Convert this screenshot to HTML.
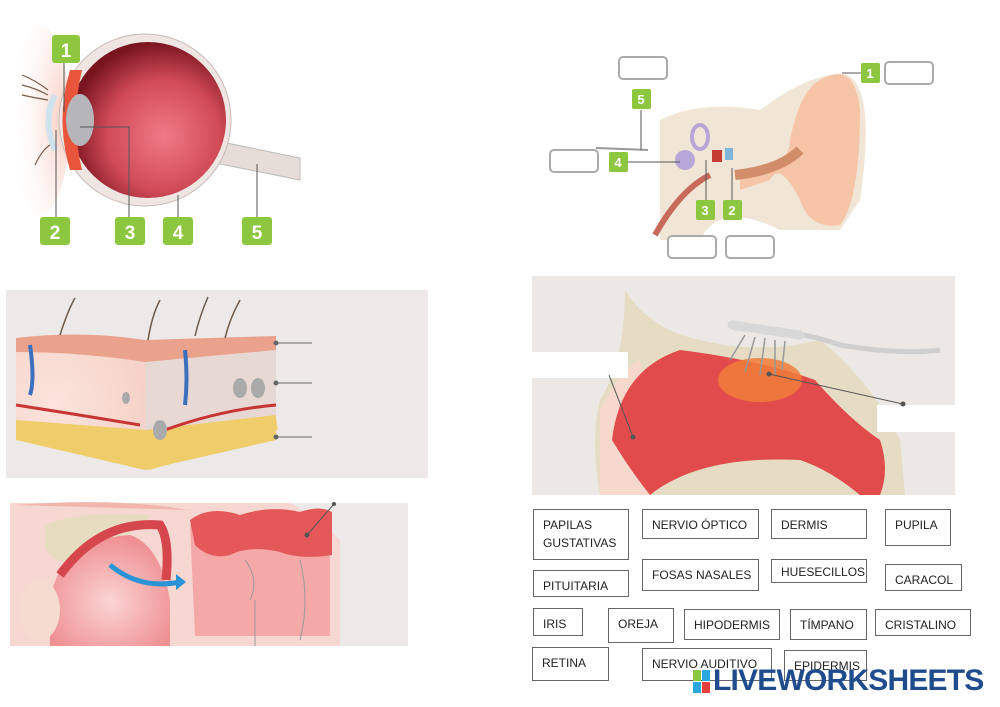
<!DOCTYPE html>
<html><head><meta charset="utf-8"><style>
body{margin:0;background:#fff;width:1000px;height:707px;position:relative;overflow:hidden;font-family:"Liberation Sans",sans-serif}
.b{position:absolute;border:1px solid #666;background:#fff;font-size:12px;color:#222;padding:6px 0 0 9px;box-sizing:border-box;line-height:18px}
svg{position:absolute;left:0;top:0}
.lw{position:absolute;font-weight:bold;font-size:30px;color:#1f4c8c;letter-spacing:-0.8px;font-family:"Liberation Sans",sans-serif}
</style></head><body>
<svg width="1000" height="707" viewBox="0 0 1000 707">
<defs>
<radialGradient id="eg" cx="0.6" cy="0.6" r="0.6"><stop offset="0" stop-color="#f07a86"/><stop offset="0.6" stop-color="#d14a58"/><stop offset="1" stop-color="#7a1520"/></radialGradient>
<radialGradient id="sk" cx="0.3" cy="0.5" r="0.8"><stop offset="0" stop-color="#fbe4dc"/><stop offset="1" stop-color="#f5d0c6"/></radialGradient>
<radialGradient id="mo" cx="0.5" cy="0.6" r="0.6"><stop offset="0" stop-color="#fbd4d4"/><stop offset="1" stop-color="#ef8f92"/></radialGradient>
<radialGradient id="lid" cx="0.9" cy="0.5" r="0.9"><stop offset="0" stop-color="#f9cbbf"/><stop offset="1" stop-color="#fff" stop-opacity="0"/></radialGradient>
</defs>
<!-- EYE -->
<ellipse cx="40" cy="120" rx="30" ry="95" fill="url(#lid)"/>
<path d="M212 140 L300 158 L300 180 L210 162 Z" fill="#e6dcd8" stroke="#bbb"/>
<circle cx="145" cy="120" r="86" fill="#efe6e3" stroke="#c9b9b5"/>
<circle cx="148" cy="120" r="78" fill="url(#eg)"/>
<path d="M70 70 Q55 120 70 170 L82 170 Q70 120 82 70Z" fill="#e8553a"/>
<ellipse cx="80" cy="120" rx="14" ry="26" fill="#b5b5ba"/>
<path d="M55 95 Q42 120 55 150" stroke="#cfe3ee" stroke-width="6" fill="none"/>
<g stroke="#7a5a4a" stroke-width="1.2" fill="none"><path d="M22 75 Q35 80 48 90"/><path d="M22 85 Q35 88 48 95"/><path d="M22 95 Q35 98 48 100"/><path d="M35 165 Q42 150 50 145"/></g>
<g stroke="#555" stroke-width="1" fill="none"><path d="M64 62 L64 112"/><path d="M56 217 L56 130"/><path d="M129 217 L129 127 L80 127"/><path d="M178 217 L178 195"/><path d="M257 217 L257 164"/></g>
<g fill="#8dc63f"><rect x="52" y="35" width="28" height="28" rx="3"/><rect x="40" y="217" width="30" height="28" rx="3"/><rect x="115" y="217" width="30" height="28" rx="3"/><rect x="163" y="217" width="30" height="28" rx="3"/><rect x="242" y="217" width="30" height="28" rx="3"/></g>
<g fill="#fff" font-size="19" font-weight="bold" text-anchor="middle"><text x="66" y="57">1</text><text x="55" y="239">2</text><text x="130" y="239">3</text><text x="178" y="239">4</text><text x="257" y="239">5</text></g>
<!-- SKIN -->
<rect x="6" y="290" width="422" height="188" fill="#ece9e8"/>
<path d="M16 400 L145 390 L272 395 L278 430 L150 470 L16 430Z" fill="#f3d37a"/>
<path d="M16 338 Q80 330 145 350 L145 470 L16 430Z" fill="url(#sk)"/>
<path d="M145 350 L276 342 L276 430 L145 470Z" fill="#e8d8d4"/>
<path d="M145 430 L276 415 L276 440 L145 470Z" fill="#efcd6a"/>
<path d="M16 420 L145 430 L145 470 L16 440Z" fill="#efcd6a"/>
<path d="M16 338 Q80 330 145 340 L276 336 L276 350 L145 362 Q80 352 16 352Z" fill="#eaa28c"/>
<g stroke="#6d5a4a" stroke-width="1.5" fill="none"><path d="M60 335 Q68 310 75 298"/><path d="M148 340 Q152 315 160 300"/><path d="M195 336 Q200 315 208 297"/><path d="M225 338 Q230 318 240 300"/></g>
<path d="M30 345 Q35 380 30 395" stroke="#3d6fbf" stroke-width="4" fill="none"/>
<path d="M185 350 Q188 380 185 405" stroke="#3d6fbf" stroke-width="4" fill="none"/>
<path d="M16 405 Q80 415 140 425" stroke="#c73535" stroke-width="3" fill="none"/>
<path d="M165 430 Q220 410 276 405" stroke="#c73535" stroke-width="3" fill="none"/>
<g fill="#aaa"><ellipse cx="160" cy="430" rx="7" ry="10"/><ellipse cx="240" cy="388" rx="7" ry="10"/><ellipse cx="258" cy="388" rx="7" ry="10"/><ellipse cx="126" cy="398" rx="4" ry="6"/></g>
<g stroke="#666" fill="#666"><line x1="276" y1="343" x2="312" y2="343"/><line x1="276" y1="383" x2="312" y2="383"/><line x1="276" y1="437" x2="312" y2="437"/><circle cx="276" cy="343" r="2"/><circle cx="276" cy="383" r="2"/><circle cx="276" cy="437" r="2"/></g>
<!-- TONGUE -->
<rect x="10" y="503" width="398" height="143" fill="#ece9e8"/>
<path d="M10 503 L290 503 Q320 520 340 540 L340 646 L10 646Z" fill="#f7d7d2"/>
<path d="M15 505 Q150 495 230 520 L190 510 Z" fill="#f2b5ae"/>
<path d="M45 525 Q80 510 150 515 Q140 535 70 560 Q50 565 45 545Z" fill="#e8dcc0"/>
<path d="M50 600 Q60 540 130 535 Q160 545 170 600 L170 646 L50 646Z" fill="url(#mo)"/>
<path d="M60 575 Q100 520 160 525 Q170 540 166 580" stroke="#d5474d" stroke-width="9" fill="none"/>
<ellipse cx="40" cy="610" rx="20" ry="30" fill="#f6dcd0"/>
<path d="M110 565 Q140 590 180 582" stroke="#2a93d5" stroke-width="5" fill="none"/>
<polygon points="176,574 186,582 176,590" fill="#2a93d5"/>
<path d="M190 525 L330 520 L330 636 L195 636Z" fill="#f4a9a8"/>
<path d="M190 520 Q210 505 240 515 Q270 505 300 512 Q320 505 332 512 L332 555 Q300 560 280 552 Q250 545 230 555 Q210 560 195 545Z" fill="#e5585a"/>
<path d="M245 560 Q260 580 250 600 M300 560 Q310 600 300 640 M255 600 L255 646" stroke="#999" fill="none"/>
<g stroke="#555" fill="#555"><line x1="307" y1="535" x2="334" y2="504"/><circle cx="307" cy="535" r="2"/><circle cx="334" cy="504" r="1.5"/></g>
<!-- EAR -->
<path d="M660 120 Q700 100 760 110 Q800 80 830 75 Q880 60 860 200 L840 230 L780 230 Q720 200 700 240 L660 240Z" fill="#f1e6d6"/>
<path d="M820 80 Q855 60 860 110 Q860 200 840 225 Q810 230 800 200 Q780 160 770 180 L740 190 L740 175 Q790 170 790 140 Q800 90 820 80Z" fill="#f6c4a6"/>
<path d="M735 175 Q780 170 800 150" stroke="#d28e6a" stroke-width="10" fill="none"/>
<path d="M655 235 Q680 190 710 175" stroke="#c86a5a" stroke-width="6" fill="none"/>
<circle cx="685" cy="160" r="10" fill="#b9a6d8"/><ellipse cx="700" cy="137" rx="8" ry="12" fill="none" stroke="#b9a6d8" stroke-width="4"/>
<rect x="725" y="148" width="8" height="12" fill="#7fb5d8"/><rect x="712" y="150" width="10" height="12" fill="#c43c34"/>
<path d="M596 148 L648 150" stroke="#999" stroke-width="2"/>
<g stroke="#555" fill="none"><line x1="641" y1="110" x2="641" y2="150"/><line x1="627" y1="162" x2="680" y2="162"/><line x1="706" y1="201" x2="706" y2="160"/><line x1="732" y1="201" x2="732" y2="168"/><line x1="842" y1="73" x2="861" y2="73"/></g>
<g fill="#fff" stroke="#aaa" stroke-width="2"><rect x="619" y="57" width="48" height="22" rx="4"/><rect x="885" y="62" width="48" height="22" rx="4"/><rect x="550" y="150" width="48" height="22" rx="4"/><rect x="668" y="236" width="48" height="22" rx="4"/><rect x="726" y="236" width="48" height="22" rx="4"/></g>
<g fill="#8dc63f"><rect x="861" y="63" width="19" height="20" rx="2"/><rect x="632" y="89" width="19" height="20" rx="2"/><rect x="609" y="152" width="19" height="20" rx="2"/><rect x="696" y="200" width="19" height="20" rx="2"/><rect x="723" y="200" width="19" height="20" rx="2"/></g>
<g fill="#fff" font-size="13" font-weight="bold" text-anchor="middle"><text x="870" y="78">1</text><text x="641" y="104">5</text><text x="618" y="167">4</text><text x="705" y="215">3</text><text x="732" y="215">2</text></g>
<!-- NOSE -->
<rect x="532" y="276" width="423" height="219" fill="#ebe8e6"/>
<path d="M625 290 Q650 330 700 340 Q760 355 820 340 Q870 380 900 440 L905 495 L600 495 Q590 440 600 400 Q625 360 625 290Z" fill="#e6dcc3"/>
<path d="M600 495 L600 410 Q620 370 640 360 L650 495Z" fill="#f6d8cc"/>
<path d="M612 440 Q620 370 680 350 Q760 360 815 380 Q850 420 880 440 Q890 470 880 495 L650 495 Q630 470 612 440Z" fill="#e24b4b"/>
<path d="M650 495 Q700 455 800 460 Q830 470 860 495Z" fill="#e6dcc3"/>
<ellipse cx="760" cy="380" rx="42" ry="22" fill="#f07d3a" opacity="0.85"/>
<path d="M735 328 Q800 330 840 345 Q900 355 940 350" stroke="#cfcfcf" stroke-width="5" fill="none"/>
<path d="M732 325 L800 335" stroke="#d8d8d8" stroke-width="9" stroke-linecap="round"/>
<g stroke="#999" stroke-width="1.5"><line x1="745" y1="335" x2="730" y2="360"/><line x1="755" y1="337" x2="745" y2="372"/><line x1="765" y1="338" x2="760" y2="375"/><line x1="775" y1="340" x2="775" y2="375"/><line x1="785" y1="341" x2="782" y2="370"/></g>
<rect x="520" y="352" width="108" height="26" fill="#fff"/>
<rect x="877" y="405" width="78" height="27" fill="#fff"/>
<g stroke="#555" fill="#555"><line x1="609" y1="375" x2="633" y2="437"/><circle cx="633" cy="437" r="2"/><line x1="769" y1="374" x2="903" y2="404"/><circle cx="769" cy="374" r="2"/><circle cx="903" cy="404" r="2"/></g>
</svg>
<div class="b" style="left:533px;top:509px;width:96px;height:51px">PAPILAS<br>GUSTATIVAS</div>
<div class="b" style="left:642px;top:509px;width:117px;height:30px">NERVIO ÓPTICO</div>
<div class="b" style="left:771px;top:509px;width:96px;height:30px">DERMIS</div>
<div class="b" style="left:885px;top:509px;width:66px;height:37px">PUPILA</div>
<div class="b" style="left:533px;top:570px;width:96px;height:27px">PITUITARIA</div>
<div class="b" style="left:642px;top:559px;width:117px;height:32px">FOSAS NASALES</div>
<div class="b" style="left:771px;top:559px;width:96px;height:24px;padding-top:3px">HUESECILLOS</div>
<div class="b" style="left:885px;top:564px;width:77px;height:27px">CARACOL</div>
<div class="b" style="left:533px;top:608px;width:50px;height:28px">IRIS</div>
<div class="b" style="left:608px;top:608px;width:66px;height:35px">OREJA</div>
<div class="b" style="left:684px;top:609px;width:96px;height:31px">HIPODERMIS</div>
<div class="b" style="left:790px;top:609px;width:77px;height:31px">TÍMPANO</div>
<div class="b" style="left:875px;top:609px;width:96px;height:27px">CRISTALINO</div>
<div class="b" style="left:532px;top:647px;width:77px;height:34px">RETINA</div>
<div class="b" style="left:642px;top:648px;width:130px;height:33px">NERVIO AUDITIVO</div>
<div class="b" style="left:784px;top:650px;width:83px;height:31px">EPIDERMIS</div>
<div style="position:absolute;left:693px;top:670px;width:18px;height:24px">
<div style="position:absolute;left:0;top:0;width:8px;height:11px;background:#8dc63f"></div>
<div style="position:absolute;left:9px;top:0;width:8px;height:11px;background:#29a8e0"></div>
<div style="position:absolute;left:0;top:12px;width:8px;height:11px;background:#29a8e0"></div>
<div style="position:absolute;left:9px;top:12px;width:8px;height:11px;background:#e8413c"></div></div>
<div class="lw" style="left:713px;top:664px">LIVEWORKSHEETS</div>
</body></html>
